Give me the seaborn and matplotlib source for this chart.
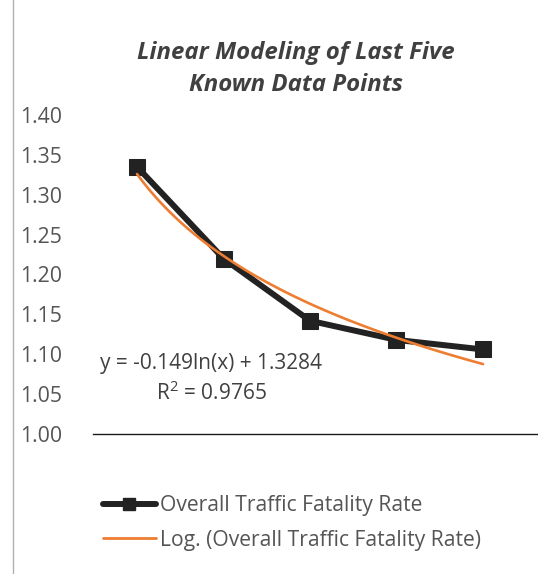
import matplotlib
matplotlib.use("Agg")
import matplotlib.pyplot as plt
from matplotlib.lines import Line2D
import seaborn as sns
import pandas as pd

# ---- data ----
periods = [1, 2, 3, 4, 5]
fatality_rate = [1.335, 1.220, 1.142, 1.118, 1.106]
yticks = [1.00, 1.05, 1.10, 1.15, 1.20, 1.25, 1.30, 1.35, 1.40]
title = "Linear Modeling of Last Five\nKnown Data Points"
series_label = "Overall Traffic Fatality Rate"
trend_label = "Log. (Overall Traffic Fatality Rate)"
equation_text = "y = -0.149ln(x) + 1.3284"
r2_text = "R$^2$ = 0.9765"

df = pd.DataFrame({"period": periods, "rate": fatality_rate})

sns.set_theme(style="white")
plt.rcParams["font.family"] = ["Open Sans", "DejaVu Sans"]
plt.rcParams["mathtext.fontset"] = "custom"
plt.rcParams["mathtext.rm"] = "Open Sans"

W, H = 538, 574
fig = plt.figure(figsize=(W / 100, H / 100), dpi=100)
fig.patch.set_facecolor("white")

left_px, right_px, top_px, bottom_px = 93, 538, 115, 434
ax = fig.add_axes([left_px / W, 1 - bottom_px / H,
                   (right_px - left_px) / W, (bottom_px - top_px) / H])
ax.set_facecolor("none")

data_color = "#222222"
trend_color = "#ED7D31"

sns.lineplot(data=df, x="period", y="rate", ax=ax, color=data_color,
             lw=4.3, marker="s", markersize=12, markeredgecolor=data_color,
             markerfacecolor=data_color, zorder=3, legend=False)
sns.regplot(data=df, x="period", y="rate", ax=ax, logx=True, scatter=False,
            ci=None, color=trend_color, line_kws={"lw": 1.9, "zorder": 4})

ax.set_xlim(0.491, 5.636)
ax.set_ylim(1.0, 1.4)
ax.set_yticks(yticks)
ax.set_yticklabels([f"{v:.2f}" for v in yticks])
ax.set_xticks([])
ax.set_xlabel("")
ax.set_ylabel("")
ax.tick_params(axis="y", length=0, pad=22, labelsize=15.3, labelcolor="#555555")
for s in ["top", "right", "left"]:
    ax.spines[s].set_visible(False)
ax.spines["bottom"].set_color("#1a1a1a")
ax.spines["bottom"].set_linewidth(1.0)

# title
fig.text(296 / W, 1 - 69 / H, title, ha="center", va="center",
         fontsize=17.3, fontweight="bold", fontstyle="italic",
         color="#404040", linespacing=1.45)

# trendline equation
fig.text(211 / W, 1 - 363 / H, equation_text, ha="center", va="center",
         fontsize=15, color="#404040")
fig.text(211 / W, 1 - 393 / H, r2_text, ha="center", va="center",
         fontsize=15, color="#404040")

# legend
handles = [Line2D([], [], color=data_color, lw=4.3, marker="s", markersize=9),
           Line2D([], [], color=trend_color, lw=2.0)]
leg = fig.legend(handles, [series_label, trend_label], loc="upper left",
                 bbox_to_anchor=(103 / W, 1 - 495 / H), frameon=False,
                 fontsize=15.2, handlelength=2.5, handletextpad=0.2,
                 labelspacing=0.65, borderaxespad=0, borderpad=0)
for t in leg.get_texts():
    t.set_color("#555555")

# chart frame line on the left
fig.add_artist(Line2D([13 / W, 13 / W], [0, 1], color="#b0b0b0", lw=1.0,
                      transform=fig.transFigure))

fig.savefig("out.png", dpi=100, facecolor="white")
